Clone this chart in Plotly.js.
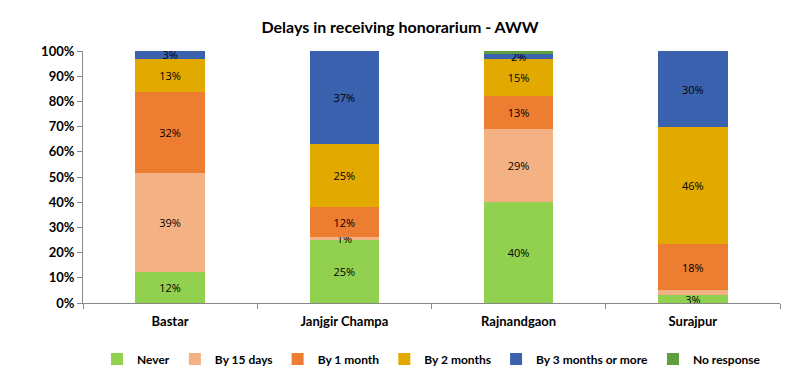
<!DOCTYPE html>
<html>
<head>
<meta charset="utf-8">
<script src="https://cdn.plot.ly/plotly-3.0.1.min.js"></script>
<style>html,body{margin:0;padding:0;background:#fff;}#chart{width:800px;height:390px;}</style>
</head>
<body>
<div id="chart"></div>
<script>
const categories = ["Bastar", "Janjgir Champa", "Rajnandgaon", "Surajpur"];
const seriesNames = ["Never", "By 15 days", "By 1 month", "By 2 months", "By 3 months or more", "No response"];
const never = [12, 25, 40, 3];
const by15days = [39, 1, 29, 2];
const by1month = [32, 12, 13, 18];
const by2months = [13, 25, 15, 46];
const by3months = [3, 37, 2, 30];
const noResponse = [0, 0, 1, 0];
// which segments carry a visible label
const showLabel = [
  [true, true, true, true],
  [true, true, true, false],
  [true, true, true, true],
  [true, true, true, true],
  [true, true, true, true],
  [false, false, false, false]
];
const colors = ["#92D050", "#F4B183", "#ED7D31", "#E2A900", "#3A62AE", "#5FA03E"];
const allSeries = [never, by15days, by1month, by2months, by3months, noResponse];

const traces = allSeries.map((vals, i) => ({
  type: "bar",
  name: seriesNames[i],
  x: categories,
  y: vals,
  marker: {color: colors[i]},
  text: vals.map((v, j) => showLabel[i][j] && v > 0 ? v + "%" : ""),
  textposition: "inside",
  insidetextanchor: "middle",
  textangle: 0,
  constraintext: "none",
  textfont: {family: "Open Sans, sans-serif", size: 11, color: "#000"},
  hoverinfo: "skip"
}));

const layout = {
  width: 800, height: 390,
  barmode: "stack",
  barnorm: "percent",
  bargap: 0.6,
  margin: {l: 83, r: 20, t: 51, b: 87, autoexpand: false},
  paper_bgcolor: "#fff",
  plot_bgcolor: "#fff",
  title: {text: "Delays in receiving honorarium - AWW", x: 0.5, xanchor: "center", y: 0.93, yanchor: "middle",
    font: {family: "Lato, sans-serif", size: 16, color: "#000", weight: "bold"}},
  font: {family: "Lato, sans-serif", color: "#000"},
  xaxis: {
    type: "category",
    automargin: false,
    tickson: "boundaries",
    ticks: "outside", ticklen: 5, tickcolor: "#888",
    ticklabelstandoff: 6,
    showline: true, linecolor: "#888", linewidth: 1,
    showgrid: false,
    tickfont: {family: "Lato, sans-serif", size: 13, color: "#000", weight: "bold"}
  },
  yaxis: {
    automargin: false,
    range: [0, 100],
    tickvals: [0,10,20,30,40,50,60,70,80,90,100],
    ticktext: ["0%","10%","20%","30%","40%","50%","60%","70%","80%","90%","100%"],
    ticks: "outside", ticklen: 5, tickcolor: "#888",
    showline: true, linecolor: "#888", linewidth: 1,
    showgrid: false, zeroline: false,
    tickfont: {family: "Lato, sans-serif", size: 13, color: "#000", weight: "bold"}
  },
  legend: {
    orientation: "h", x: 0.5, xanchor: "center", y: -0.165, yanchor: "top",
    font: {family: "Lato, sans-serif", size: 12, color: "#000", weight: "bold"},
    traceorder: "normal",
    itemwidth: 30,
    tracegroupgap: 0
  },
  showlegend: true
};

Plotly.newPlot("chart", traces, layout, {displayModeBar: false, staticPlot: true});
</script>
</body>
</html>
